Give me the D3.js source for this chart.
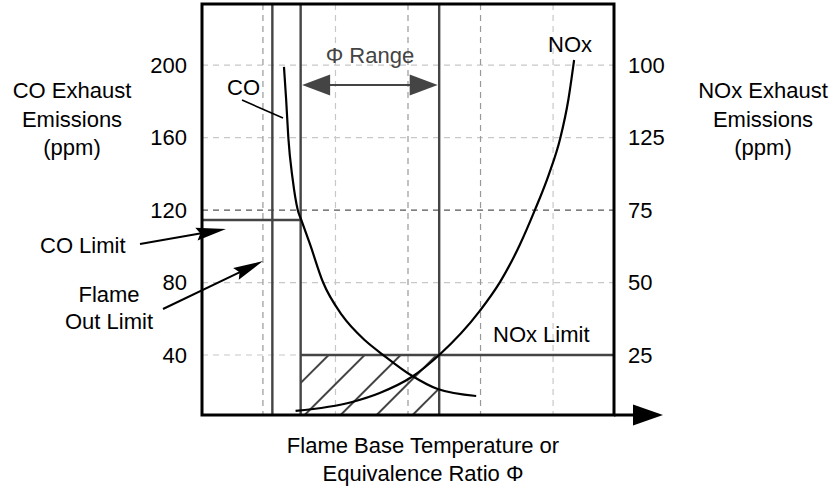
<!DOCTYPE html>
<html>
<head>
<meta charset="utf-8">
<script src="https://cdn.jsdelivr.net/npm/d3@7"></script>
<style>
  html, body { margin: 0; padding: 0; background: #fff; }
  svg text { font-family: "Liberation Sans", Arial, Helvetica, sans-serif; font-size: 22px; fill: #000; }
</style>
</head>
<body>
<svg id="chart" width="835" height="494"></svg>
<script>
// ---- data ----
const xGridValues = [1, 2, 3, 4, 5];               // equivalence ratio grid (arbitrary units)
const coTicks = [40, 80, 120, 160, 200];           // CO ppm (left axis)
const noxTickLabels = ["25", "50", "75", "125", "100"]; // right axis labels, bottom to top, as printed
const coX   = [1.29, 1.32, 1.35, 1.41, 1.48, 1.53, 1.65, 1.83, 2.09, 2.41, 2.66, 3.06, 3.41, 3.94];
const coVal = [199, 181, 160, 137, 120, 114.5, 101, 80, 62, 48, 40, 28.4, 21.2, 17.4];
const noxX   = [1.45, 2.23, 2.61, 3.05, 3.43, 3.99, 4.27, 4.54, 4.75, 4.94, 5.10, 5.21, 5.29];
const noxVal = [5.7, 8.8, 11.9, 17.4, 25, 40.2, 50.2, 62.9, 75, 87.1, 99.8, 112.9, 126.7];
const flameOutLimit = 1.13;
const phiLow = 1.52, phiHigh = 3.43;
const coLimit = 114.5;
const noxLimit = 25;

// ---- scales ----
const svg = d3.select("#chart");
const L = 202, R = 614, T = 4, B = 415;
const x = d3.scaleLinear().domain([0.16, 5.84]).range([L, R]);
const y = d3.scaleLinear().domain([6.9, 233.7]).range([B, T]);
const yN = d3.scaleLinear().domain([4.3, 146]).range([B, T]);

// ---- gridlines ----
const grid = svg.append("g");
grid.selectAll("line.h").data(coTicks).join("line")
  .attr("x1", L).attr("x2", R).attr("y1", d => y(d)).attr("y2", d => y(d))
  .attr("stroke", d => d === 120 ? "#555" : "#c8c8c8").attr("stroke-width", 1.2)
  .attr("stroke-dasharray", "6,5");
grid.selectAll("line.v").data(xGridValues).join("line")
  .attr("x1", d => x(d)).attr("x2", d => x(d)).attr("y1", T).attr("y2", B)
  .attr("stroke", (d, i) => (i === 1 || i === 4) ? "#c8c8c8" : "#999").attr("stroke-width", 1.2)
  .attr("stroke-dasharray", "6,5");

// ---- hatched feasible region ----
const defs = svg.append("defs");
defs.append("clipPath").attr("id", "hatchClip").append("rect")
  .attr("x", x(phiLow)).attr("y", yN(noxLimit))
  .attr("width", x(phiHigh) - x(phiLow)).attr("height", B - yN(noxLimit));
const hatch = svg.append("g").attr("clip-path", "url(#hatchClip)");
const hTop = yN(noxLimit), hH = B - hTop;
const hatchStarts = d3.range(x(phiLow) - 32, x(phiHigh) + 2, 36);
hatch.selectAll("line").data(hatchStarts).join("line")
  .attr("x1", d => d).attr("y1", B).attr("x2", d => d + hH + 20).attr("y2", hTop - 20)
  .attr("stroke", "#444").attr("stroke-width", 2);

// ---- limit lines ----
const gray = "#444";
[flameOutLimit, phiLow, phiHigh].forEach(v => {
  svg.append("line").attr("x1", x(v)).attr("x2", x(v)).attr("y1", T).attr("y2", B)
    .attr("stroke", gray).attr("stroke-width", 2.4);
});
svg.append("line").attr("x1", L).attr("x2", x(phiLow)).attr("y1", y(coLimit)).attr("y2", y(coLimit))
  .attr("stroke", gray).attr("stroke-width", 2.4);
svg.append("line").attr("x1", x(phiLow)).attr("x2", R).attr("y1", yN(noxLimit)).attr("y2", yN(noxLimit))
  .attr("stroke", gray).attr("stroke-width", 2.4);

// ---- curves ----
const coData = coX.map((v, i) => [v, coVal[i]]);
const noxData = noxX.map((v, i) => [v, noxVal[i]]);
svg.append("path").datum(coData)
  .attr("d", d3.line().x(d => x(d[0])).y(d => y(d[1])).curve(d3.curveMonotoneX))
  .attr("fill", "none").attr("stroke", "#000").attr("stroke-width", 2.2);
svg.append("path").datum(noxData)
  .attr("d", d3.line().x(d => x(d[0])).y(d => yN(d[1])).curve(d3.curveMonotoneX))
  .attr("fill", "none").attr("stroke", "#000").attr("stroke-width", 2.2);

// ---- frame and x arrow ----
svg.append("rect").attr("x", L).attr("y", T).attr("width", R - L).attr("height", B - T)
  .attr("fill", "none").attr("stroke", "#000").attr("stroke-width", 3);
svg.append("line").attr("x1", R).attr("x2", 640).attr("y1", B).attr("y2", B)
  .attr("stroke", "#000").attr("stroke-width", 3);
svg.append("path").attr("d", `M633,${B - 10.5} L663,${B} L633,${B + 10.5} Z`).attr("fill", "#000");

// ---- axes ----
const leftAxis = d3.axisLeft(y).tickValues(coTicks).tickSize(0).tickPadding(15);
const gL = svg.append("g").attr("transform", `translate(${L},0)`).call(leftAxis);
gL.select(".domain").remove();
gL.selectAll("text").attr("font-size", 22).style("font-size", "22px").attr("fill", "#000");
const rightAxis = d3.axisRight(y).tickValues(coTicks).tickSize(0).tickPadding(14)
  .tickFormat((d, i) => noxTickLabels[i]);
const gR = svg.append("g").attr("transform", `translate(${R},0)`).call(rightAxis);
gR.select(".domain").remove();
gR.selectAll("text").style("font-size", "22px").attr("fill", "#000");

// ---- axis titles ----
function multiline(lines, cx, y0, dy) {
  const t = svg.append("text").attr("text-anchor", "middle");
  lines.forEach((s, i) => t.append("tspan").attr("x", cx).attr("y", y0 + i * dy).text(s));
}
multiline(["CO Exhaust", "Emissions", "(ppm)"], 72, 98, 28.5);
multiline(["NOx Exhaust", "Emissions", "(ppm)"], 763, 98, 28.5);
multiline(["Flame Base Temperature or", "Equivalence Ratio \u03A6"], 423, 453, 28);

// ---- annotations ----
svg.append("text").attr("x", 227).attr("y", 95).text("CO");
svg.append("line").attr("x1", 242).attr("y1", 100).attr("x2", 283).attr("y2", 118)
  .attr("stroke", "#000").attr("stroke-width", 1.6);
svg.append("text").attr("x", 548).attr("y", 52).text("NOx");
svg.append("text").attr("x", 493).attr("y", 342).text("NOx Limit");
svg.append("text").attr("x", (x(phiLow) + x(phiHigh)) / 2).attr("y", 63)
  .attr("text-anchor", "middle").style("fill", "#444").text("\u03A6 Range");

// double-headed Φ range arrow
const ay = 85, a0 = x(phiLow) + 1.5, a1 = x(phiHigh) - 1.5;
svg.append("line").attr("x1", a0 + 20).attr("x2", a1 - 20).attr("y1", ay).attr("y2", ay)
  .attr("stroke", "#444").attr("stroke-width", 2.2);
svg.append("path").attr("d", `M${a0},${ay} L${a0 + 28},${ay - 10.5} L${a0 + 28},${ay + 10.5} Z`).attr("fill", "#444");
svg.append("path").attr("d", `M${a1},${ay} L${a1 - 28},${ay - 10.5} L${a1 - 28},${ay + 10.5} Z`).attr("fill", "#444");

// pointer arrows
function pointer(x0, y0, x1, y1) {
  const ang = Math.atan2(y1 - y0, x1 - x0), len = 30, hw = 6.5;
  const bx = x1 - len * Math.cos(ang), by = y1 - len * Math.sin(ang);
  svg.append("line").attr("x1", x0).attr("y1", y0).attr("x2", bx + 5 * Math.cos(ang)).attr("y2", by + 5 * Math.sin(ang))
    .attr("stroke", "#000").attr("stroke-width", 2);
  const px = -Math.sin(ang) * hw, py = Math.cos(ang) * hw;
  svg.append("path").attr("d", `M${x1},${y1} L${bx + px},${by + py} L${bx + 4 * Math.cos(ang)},${by + 4 * Math.sin(ang)} L${bx - px},${by - py} Z`)
    .attr("fill", "#000");
}
svg.append("text").attr("x", 40).attr("y", 253).text("CO Limit");
pointer(140, 244, 226, 229);
multiline(["Flame", "Out Limit"], 109, 302, 27);
pointer(163, 309, 263, 261);
</script>
</body>
</html>
